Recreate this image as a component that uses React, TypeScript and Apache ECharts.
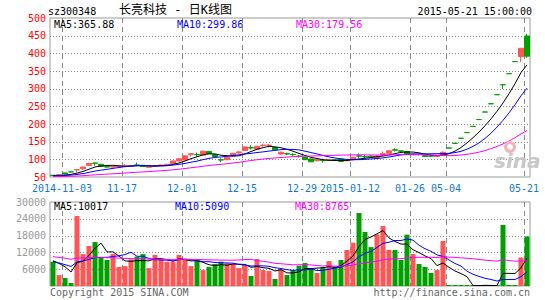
import React, { useEffect, useRef } from "react";
import * as echarts from "echarts";

// ---------- data ----------
const dates = [
  "2014-10-30", "2014-10-31",
  "2014-11-03", "2014-11-04", "2014-11-05", "2014-11-06", "2014-11-07",
  "2014-11-10", "2014-11-11", "2014-11-12", "2014-11-13", "2014-11-14",
  "2014-11-17", "2014-11-18", "2014-11-19", "2014-11-20", "2014-11-21",
  "2014-11-24", "2014-11-25", "2014-11-26", "2014-11-27", "2014-11-28",
  "2014-12-01", "2014-12-02", "2014-12-03", "2014-12-04", "2014-12-05",
  "2014-12-08", "2014-12-09", "2014-12-10", "2014-12-11", "2014-12-12",
  "2014-12-15", "2014-12-16", "2014-12-17", "2014-12-18", "2014-12-19",
  "2014-12-22", "2014-12-23", "2014-12-24", "2014-12-25", "2014-12-26",
  "2014-12-29", "2014-12-30", "2014-12-31",
  "2015-01-05", "2015-01-06", "2015-01-07", "2015-01-08", "2015-01-09",
  "2015-01-12", "2015-01-13", "2015-01-14", "2015-01-15", "2015-01-16",
  "2015-01-19", "2015-01-20", "2015-01-21", "2015-01-22", "2015-01-23",
  "2015-01-26", "2015-01-27", "2015-01-28", "2015-01-29", "2015-01-30",
  "2015-02-02",
  "2015-05-04", "2015-05-05", "2015-05-06", "2015-05-07", "2015-05-08",
  "2015-05-11", "2015-05-12", "2015-05-13", "2015-05-14", "2015-05-15",
  "2015-05-18", "2015-05-19", "2015-05-20", "2015-05-21",
];

const opens = [
  55, 55, 61.5, 64.5, 70, 73.5, 83, 89.5, 86, 80,
  78, 80, 81, 81.5, 84, 83, 77.5, 80, 82, 84,
  88.5, 95.5, 98, 114, 114, 112, 122.5, 114, 99, 99,
  110, 118, 125, 133, 129, 139, 139, 134, 115, 116,
  114, 109, 106, 101, 96, 97, 97, 99, 101, 96,
  99, 110, 108, 109, 104, 112, 117, 127, 124, 122,
  113, 114, 111, 110, 108, 112, 132, 145.2, 159.7, 175.7,
  193.3, 212.6, 233.9, 257.3, 283, 311.3, 342.4, 376.6, 391, 449,
];
const closes = [
  54, 56.5, 58.5, 64.5, 71, 78, 88.5, 89, 80, 78,
  80, 81, 82, 82.5, 83.5, 80, 80, 82, 84, 86,
  95.5, 101.5, 110, 116, 113, 123, 116, 108, 98, 106,
  117, 121, 135, 132, 137, 140, 140, 127, 120, 115,
  113, 108, 99, 93, 99, 96, 99, 97, 94, 99,
  106, 109, 107, 106, 109, 116, 124, 126, 123, 115,
  115, 113, 108, 109, 110, 120, 132, 145.2, 159.7, 175.7,
  193.3, 212.6, 233.9, 257.3, 283, 311.3, 342.4, 376.6, 414.3, 392,
];
const lows = [
  53.5, 54.5, 58, 64.5, 63, 70, 82, 82, 79, 77,
  77, 79.5, 80, 80.5, 81, 79.5, 77, 79.5, 81.5, 83.5,
  88, 95, 97, 108, 107, 111, 115, 107, 92, 98,
  109, 117, 124, 128, 127, 136, 134, 126, 114, 112,
  110, 105, 98, 92, 95, 91, 96, 96, 93, 95,
  98, 103, 104, 104, 103, 110, 116, 122, 120, 114,
  112, 111, 107, 107, 107, 111, 132, 145.2, 159.7, 175.7,
  193.3, 212.6, 233.9, 257.3, 283, 299, 342.4, 376.6, 376, 387,
];
const highs = [
  55.5, 57, 62, 64.5, 71, 79.5, 90, 90, 87, 81.5,
  81, 82, 86.5, 83, 91, 84, 80.5, 82.5, 85, 87,
  96, 102, 111, 116, 119, 124, 123, 115, 103, 107,
  118, 124, 136, 140, 138, 144, 144, 134, 122, 119,
  117, 112, 107, 102, 100, 102, 100, 100, 102, 101,
  107, 117, 112, 111, 112, 122, 125, 131, 126, 123,
  116, 115, 112, 111, 111, 122, 132, 145.2, 159.7, 175.7,
  193.3, 212.6, 233.9, 257.3, 283, 311.3, 342.4, 376.6, 414.3, 455,
];
const volumes = [
  8700, 3900, 2860, 1070, 25000, 11400, 14280, 15700, 10200, 9300,
  11400, 6800, 7100, 9500, 10500, 11400, 6400, 11100, 9500, 8700,
  8600, 11100, 9300, 7100, 9000, 5700, 6800, 7850, 8700, 8100,
  7850, 6400, 7400, 3570, 9640, 5700, 5350, 2500, 5950, 3900,
  5700, 7260, 8200, 6070, 4640, 6660, 8900, 6900, 9280, 12850,
  15470, 26060, 19280, 13900, 18450, 21420, 12850, 12850, 9280, 18330,
  11420, 7850, 6780, 4640, 5710, 16070, 180, 150, 160, 170,
  150, 160, 400, 110, 120, 21800, 150, 130, 10200, 17700,
];
// closes / volumes of the 29 sessions before the window (needed for the MAs)
const priorCloses = [
  49.5, 50.2, 50.8, 49.6, 49.0, 49.8, 50.5, 51.2, 50.6, 49.9,
  49.3, 49.7, 50.4, 50.9, 50.2, 49.6, 49.8, 50.3, 50.1, 49.8,
  51.8, 52.3, 52.0, 52.6, 52.9, 53.2, 54.0, 53.4, 53.8,
];
const priorVolumes = [
  12500, 10800, 13200, 11600, 9800, 12400, 11000, 10200, 13800, 12100,
  10500, 9900, 11800, 12600, 10400, 11200, 9600, 12300, 11500, 10600,
  8200, 9100, 7600, 8900, 7900, 8700, 8700, 10570, 8470,
];

const tickDates = ["2014-11-03", "2014-11-17", "2014-12-01", "2014-12-15", "2014-12-29", "2015-01-12", "2015-01-26", "2015-05-04", "2015-05-21"];
const tickLabels = ["2014-11-03", "11-17", "12-01", "12-15", "12-29", "2015-01-12", "01-26", "05-04", "05-21"];
const priceTicks = [50, 100, 150, 200, 250, 300, 350, 400, 450, 500];
const volumeTicks = [0, 6000, 12000, 18000, 24000, 30000];
const priceLegend = ["MA5:365.88", "MA10:299.86", "MA30:179.56"];
const volumeLegend = ["MA5:10017", "MA10:5090", "MA30:8765"];

// ---------- style ----------
const RED = "#ff5555";
const GREEN = "#00a000";
const MA_COLORS = ["#000000", "#0000ff", "#ff00ff"];
const MONO = "'DejaVu Sans Mono', monospace";
const GRID_LINE = "#888888";

function movingAverage(vals: number[], prior: number[], n: number) {
  const all = prior.concat(vals);
  const off = prior.length;
  return vals.map((_, i) => {
    let s = 0;
    for (let k = 0; k < n; k++) s += all[off + i - k];
    return +(s / n).toFixed(2);
  });
}

export default function App() {
  const ref = useRef<HTMLDivElement>(null);
  useEffect(() => {
    if (!ref.current) return;
    const chart = echarts.init(ref.current, undefined, { renderer: "svg" });
    const isUp = (i: number) => closes[i] > opens[i];
    const tickSet = new Set(tickDates);
    const showTick = (_i: number, v: string) => tickSet.has(v);

    const candleData = dates.map((_, i) => {
      const item: any = { value: [opens[i], closes[i], lows[i], highs[i]] };
      if (opens[i] === closes[i]) item.itemStyle = { color: GREEN, borderColor: GREEN, color0: GREEN, borderColor0: GREEN };
      return item;
    });
    const volData = volumes.map((v, i) => ({ value: v, itemStyle: { color: isUp(i) ? RED : GREEN } }));
    const periods = [5, 10, 30];

    // grid lines drawn through the axes' scales: dashed verticals at the left edge of
    // each labelled session's band, dotted horizontals at each value tick
    const gridLines = (axisIdx: number, yTicks: number[]) => ({
      type: "custom",
      xAxisIndex: axisIdx,
      yAxisIndex: axisIdx,
      silent: true,
      z: 1,
      clip: false,
      encode: { x: 0, y: 1 },
      data: [
        ...tickDates.map((d) => [dates.indexOf(d), yTicks[0], 0]),
        ...yTicks.slice(1, -1).map((v) => [0, v, 1]),
      ],
      renderItem: (params: any, api: any) => {
        const cs = params.coordSys;
        if (api.value(2) === 0) {
          const band = api.size([1, 0])[0];
          const x = Math.round(api.coord([api.value(0), yTicks[0]])[0] - band / 2) + 0.5;
          return {
            type: "line",
            shape: { x1: x, y1: cs.y, x2: x, y2: cs.y + cs.height },
            style: { stroke: GRID_LINE, lineWidth: 1, lineDash: [5, 4], fill: null },
          };
        }
        const y = Math.round(api.coord([0, api.value(1)])[1]) + 0.5;
        return {
          type: "line",
          shape: { x1: cs.x, y1: y, x2: cs.x + cs.width, y2: y },
          style: { stroke: GRID_LINE, lineWidth: 1, lineDash: [1, 2], fill: null },
        };
      },
    });

    const legendText = (labels: string[], xs: number[], top: number) =>
      labels.map((t, k) => ({
        type: "text",
        left: xs[k],
        top,
        z: 100,
        style: { text: t, font: `10px ${MONO}`, fill: MA_COLORS[k] },
      }));

    const pMin = priceTicks[0], pMax = priceTicks[priceTicks.length - 1];
    const vMin = volumeTicks[0], vMax = volumeTicks[volumeTicks.length - 1];

    chart.setOption({
      animation: false,
      backgroundColor: "#ffffff",
      grid: [
        { left: 50, top: 18, width: 480, height: 159, show: true, borderColor: "#999999", borderWidth: 1, backgroundColor: "transparent" },
        { left: 50, top: 202, width: 480, height: 84, show: true, borderColor: "#999999", borderWidth: 1, backgroundColor: "transparent" },
      ],
      xAxis: [
        {
          type: "category", gridIndex: 0, data: dates, boundaryGap: true,
          axisLine: { show: false }, axisTick: { show: false },
          axisLabel: {
            show: true, interval: showTick, margin: 6,
            formatter: (v: string) => tickLabels[tickDates.indexOf(v)] ?? "",
            color: "#1479cc", fontFamily: "DejaVu Sans Mono", fontSize: 10,
            padding: [0, 6, 0, 0],
          },
          splitLine: { show: false },
        },
        {
          type: "category", gridIndex: 1, data: dates, boundaryGap: true,
          axisLine: { show: false }, axisTick: { show: false }, axisLabel: { show: false },
          splitLine: { show: false },
        },
      ],
      yAxis: [
        {
          type: "value", gridIndex: 0, min: pMin, max: pMax, interval: priceTicks[1] - priceTicks[0],
          axisLine: { show: false }, axisTick: { show: false },
          axisLabel: { color: "#ff0000", fontFamily: "DejaVu Sans Mono", fontSize: 10, margin: 4 },
          splitLine: { show: false },
        },
        {
          type: "value", gridIndex: 1, min: vMin, max: vMax, interval: volumeTicks[1] - volumeTicks[0],
          axisLine: { show: false }, axisTick: { show: false },
          axisLabel: {
            color: "#999999", fontFamily: "DejaVu Sans Mono", fontSize: 10, margin: 4,
            formatter: (v: number) => (v === 0 ? "" : String(v)),
          },
          splitLine: { show: false },
        },
      ],
      series: [
        gridLines(0, priceTicks),
        gridLines(1, volumeTicks),
        {
          type: "candlestick", xAxisIndex: 0, yAxisIndex: 0, data: candleData, barWidth: 5, z: 2,
          itemStyle: { color: RED, color0: GREEN, borderColor: RED, borderColor0: GREEN, borderWidth: 1 },
        },
        ...periods.map((p, k) => ({
          type: "line", xAxisIndex: 0, yAxisIndex: 0, data: movingAverage(closes, priorCloses, p),
          symbol: "none", lineStyle: { color: MA_COLORS[k], width: 1 }, z: 3,
        })),
        {
          type: "bar", xAxisIndex: 1, yAxisIndex: 1, data: volData, barWidth: 5, barMinHeight: 1, z: 2,
        },
        ...periods.map((p, k) => ({
          type: "line", xAxisIndex: 1, yAxisIndex: 1, data: movingAverage(volumes, priorVolumes, p),
          symbol: "none", lineStyle: { color: MA_COLORS[k], width: 1 }, z: 3,
        })),
      ],
      graphic: [
        { type: "text", left: 48, top: 6, style: { text: "sz300348", font: `10px ${MONO}`, fill: "#000" } },
        { type: "text", left: 119, top: 4, style: { text: "长亮科技 - 日K线图", font: "12px 'DejaVu Sans Mono', 'Noto Sans CJK SC'", fill: "#000" } },
        { type: "text", right: 13, top: 6, style: { text: "2015-05-21 15:00:00", font: `10px ${MONO}`, fill: "#000" } },
        ...legendText(priceLegend, [54, 177, 296], 19),
        ...legendText(volumeLegend, [54, 175, 295], 201),
        { type: "text", left: 50, top: 287, style: { text: "Copyright 2015 SINA.COM", font: `10px ${MONO}`, fill: "#666" } },
        { type: "text", right: 15, top: 287, style: { text: "http://finance.sina.com.cn", font: `10px ${MONO}`, fill: "#666" } },
        { type: "ring", shape: { cx: 510, cy: 147, r: 6, r0: 3 }, style: { fill: "#f4b4b4" }, z: 50 },
        { type: "text", left: 494, top: 151, z: 50, style: { text: "sina", font: "italic bold 20px 'DejaVu Sans'", fill: "#c8c8c8" } },
      ],
    });
    return () => chart.dispose();
  }, []);
  return <div ref={ref} style={{ position: "fixed", left: 0, top: 0, width: 545, height: 300 }} />;
}
